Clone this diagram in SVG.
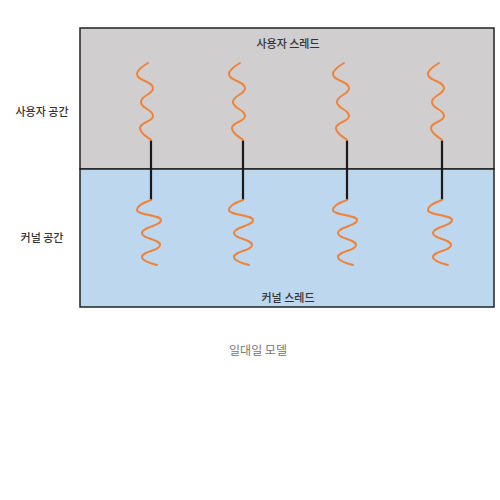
<svg xmlns="http://www.w3.org/2000/svg" xmlns:xlink="http://www.w3.org/1999/xlink" width="500" height="500" viewBox="0 0 500 500">
<style>
text{font-family:"Noto Sans CJK KR","Noto Sans",sans-serif;font-size:11px;font-weight:500;fill:#333;text-anchor:middle}
.wave{fill:none;stroke:#F0833A;stroke-width:2;stroke-linecap:round}
.link{stroke:#1a1a1a;stroke-width:2.2}
</style>
<defs>
<path id="uw" class="wave" d="M-3,-77 C-8,-74 -14,-70 -14,-66 C-14,-59 2,-59 2,-52 C2,-45 -10,-45 -10,-38 C-10,-31 2,-31 2,-24 C2,-18 -11,-18 -11,-12 C-11,-6 -3,-3 0,0"/>
<path id="kw" class="wave" d="M0,0 C-6,2 -14,6 -14,10 C-14,15 10,15 10,20 C10,26 -9,27 -9,33 C-9,39 9,39 9,45 C9,51 -9,51 -9,57 C-9,61 2,64 6,65"/>
</defs>
<rect width="500" height="500" fill="#fff"/>
<g id="user-space">
<rect x="80" y="28" width="414" height="141" fill="#D0CECF" stroke="#222" stroke-width="1.5"/>
<text x="288" y="48">사용자 스레드</text>
</g>
<g id="kernel-space">
<rect x="80" y="169" width="414" height="138" fill="#BDD7EE" stroke="#222" stroke-width="1.5"/>
<text x="288" y="302">커널 스레드</text>
</g>
<g id="labels">
<text x="42" y="116">사용자 공간</text>
<text x="42" y="242">커널 공간</text>
<text x="258" y="355" style="fill:#777;font-size:12px;font-weight:400">일대일 모델</text>
</g>
<g id="connectors">
<line class="link" x1="151" y1="140" x2="151" y2="200"/>
<line class="link" x1="243" y1="140" x2="243" y2="200"/>
<line class="link" x1="347" y1="140" x2="347" y2="200"/>
<line class="link" x1="442" y1="140" x2="442" y2="200"/>
</g>
<g id="user-thread-1"><use xlink:href="#uw" transform="translate(151,140)"/></g>
<g id="user-thread-2"><use xlink:href="#uw" transform="translate(243,140)"/></g>
<g id="user-thread-3"><use xlink:href="#uw" transform="translate(347,140)"/></g>
<g id="user-thread-4"><use xlink:href="#uw" transform="translate(442,140)"/></g>
<g id="kernel-thread-1"><use xlink:href="#kw" transform="translate(151,200)"/></g>
<g id="kernel-thread-2"><use xlink:href="#kw" transform="translate(243,200)"/></g>
<g id="kernel-thread-3"><use xlink:href="#kw" transform="translate(347,200)"/></g>
<g id="kernel-thread-4"><use xlink:href="#kw" transform="translate(442,200)"/></g>
</svg>
